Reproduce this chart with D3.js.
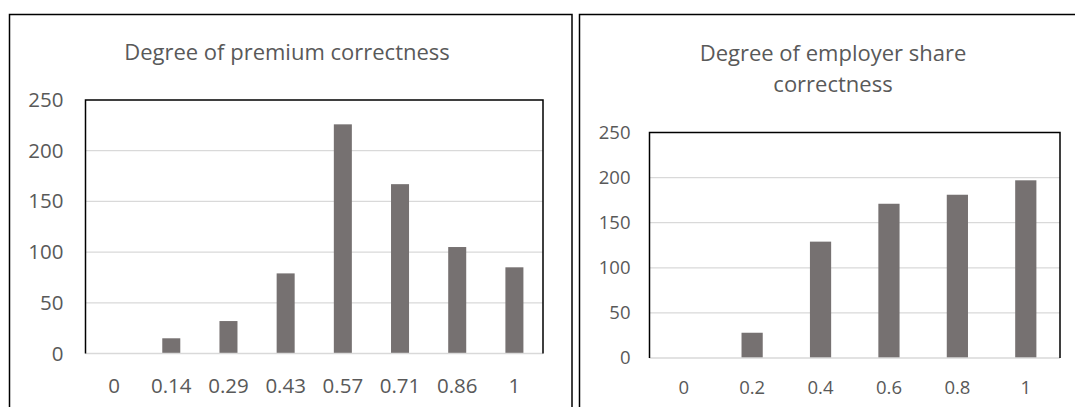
<!DOCTYPE html>
<html>
<head>
<meta charset="utf-8">
<script src="https://cdn.jsdelivr.net/npm/d3@7"></script>
<style>
  html, body { margin: 0; padding: 0; background: #fff; }
  svg { display: block; font-family: "Open Sans", sans-serif; }
</style>
</head>
<body>
<svg id="chart" width="1075" height="407"></svg>
<script>
// Distribution of correctness scores
const premiumCategories = ["0", "0.14", "0.29", "0.43", "0.57", "0.71", "0.86", "1"];
const premiumCounts = [0, 15, 32, 79, 226, 167, 105, 85];
const shareCategories = ["0", "0.2", "0.4", "0.6", "0.8", "1"];
const shareCounts = [0, 28, 129, 171, 181, 197];
const countTicks = [0, 50, 100, 150, 200, 250];

const BAR = "#767171", TEXT = "#595959", GRID = "#d9d9d9";
const svg = d3.select("#chart");

// outer panel frames
svg.append("rect").attr("x", 9.5).attr("y", 14.5).attr("width", 562.5).attr("height", 420)
  .attr("fill", "none").attr("stroke", "#000").attr("stroke-width", 1.5);
svg.append("rect").attr("x", 579.5).attr("y", 14.5).attr("width", 520).attr("height", 420)
  .attr("fill", "none").attr("stroke", "#000").attr("stroke-width", 1.5);

function drawChart(cfg) {
  const g = svg.append("g");
  const x = d3.scaleBand().domain(cfg.categories).range([cfg.left, cfg.right])
    .paddingInner(cfg.pad).paddingOuter(cfg.pad / 2);
  const y = d3.scaleLinear().domain([0, 250]).range([cfg.bottom, cfg.top]);

  // horizontal gridlines
  g.selectAll("line.grid").data(countTicks.filter(d => d > 0 && d < 250)).join("line")
    .attr("x1", cfg.left).attr("x2", cfg.right)
    .attr("y1", d => y(d)).attr("y2", d => y(d))
    .attr("stroke", GRID).attr("stroke-width", 1.3);

  // bars
  g.selectAll("rect.bar").data(cfg.values).join("rect")
    .attr("x", (d, i) => x(cfg.categories[i]))
    .attr("width", x.bandwidth())
    .attr("y", d => y(d))
    .attr("height", d => y(0) - y(d))
    .attr("fill", BAR);

  // category axis line
  g.append("line").attr("x1", cfg.left).attr("x2", cfg.right)
    .attr("y1", y(0)).attr("y2", y(0)).attr("stroke", GRID).attr("stroke-width", 1.5);

  // plot frame (top, left, right)
  g.append("path")
    .attr("d", `M${cfg.left},${y(0)}V${cfg.top}H${cfg.right}V${y(0)}`)
    .attr("fill", "none").attr("stroke", "#000").attr("stroke-width", 1.5);

  // value axis labels
  const ya = g.append("g").attr("transform", `translate(${cfg.left},0)`)
    .call(d3.axisLeft(y).tickValues(countTicks).tickSize(0).tickPadding(cfg.yPad));
  ya.select(".domain").remove();
  ya.selectAll("text").attr("fill", TEXT).style("font-size", cfg.tickSize + "px")
    .style("font-family", "'Open Sans', sans-serif");

  // category axis labels
  const xa = g.append("g").attr("transform", `translate(0,${y(0)})`)
    .call(d3.axisBottom(x).tickSize(0));
  xa.select(".domain").remove();
  xa.selectAll("text").attr("fill", TEXT).attr("dy", 0).attr("y", cfg.xLabelY - y(0))
    .style("font-size", cfg.tickSize + "px")
    .style("font-family", "'Open Sans', sans-serif");

  // title
  const t = g.append("text").attr("x", cfg.titleX).attr("text-anchor", "middle")
    .attr("fill", TEXT).style("font-size", "22px");
  cfg.title.forEach((line, i) => {
    t.append("tspan").attr("x", cfg.titleX).attr("y", cfg.titleY + i * 31).text(line);
  });
}

drawChart({
  categories: premiumCategories, values: premiumCounts,
  left: 85.5, right: 543, top: 100, bottom: 353.5, pad: 0.685,
  yPad: 22, tickSize: 20.5, xLabelY: 393,
  title: ["Degree of premium correctness"], titleX: 287, titleY: 60
});

drawChart({
  categories: shareCategories, values: shareCounts,
  left: 649.5, right: 1060, top: 132.5, bottom: 358, pad: 0.69,
  yPad: 19, tickSize: 18.5, xLabelY: 394,
  title: ["Degree of employer share", "correctness"], titleX: 833, titleY: 61
});
</script>
</body>
</html>
